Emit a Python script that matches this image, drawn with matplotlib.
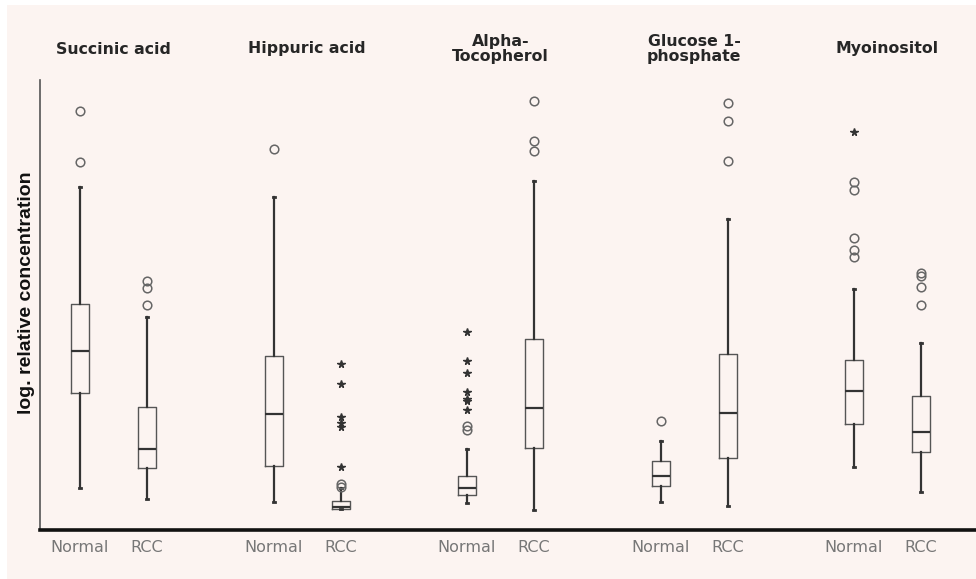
import matplotlib.pyplot as plt
from matplotlib.patches import Rectangle

# values are heights above the x axis (arbitrary log units)
metabolites = ['Succinic acid', 'Hippuric acid', 'Alpha-\nTocopherol', 'Glucose 1-\nphosphate', 'Myoinositol']
groups = ['Normal', 'RCC']

# whisker low, q1, median, q3, whisker high
normal_stats = [
    [42, 137, 179, 226, 343],
    [28, 64, 116, 174, 333],
    [27, 35, 42, 54, 81],
    [28, 44, 54, 69, 89],
    [63, 106, 139, 170, 241],
]
rcc_stats = [
    [31, 62, 81, 123, 213],
    [21, 21, 23, 29, 42],
    [20, 82, 122, 191, 349],
    [24, 72, 117, 176, 311],
    [38, 78, 98, 134, 187],
]

# outliers drawn as circles
normal_circles = [[419, 368], [381], [100, 104], [109], [273, 280, 292, 340, 348]]
rcc_circles = [[225, 242, 249], [43, 46], [379, 389, 429], [369, 409, 427], [225, 243, 254, 257]]
# extreme values drawn as stars
normal_stars = [[], [], [198, 169, 157, 138, 131, 129, 120], [], [398]]
rcc_stars = [[], [166, 146, 113, 107, 103, 63], [], [], []]

fig = plt.figure(figsize=(9.76, 5.79), dpi=100)
fig.patch.set_facecolor('white')
ax = fig.add_axes([0, 0, 1, 1])
ax.set_xlim(0, 976)
ax.set_ylim(-49, 530)
ax.axis('off')

ax.add_patch(Rectangle((7, -49), 969, 574, facecolor='#fcf4f1', edgecolor='none', zorder=0))

# axes lines
ax.plot([40, 40], [0, 450], color='#555555', lw=1.2, zorder=2)
ax.plot([40, 976], [0, 0], color='#111111', lw=2.6, zorder=2)

x0 = 80
step = 193.5
off = 67

stats = []
positions = []
for i in range(len(metabolites)):
    for g, src, circ in ((0, normal_stats, normal_circles), (1, rcc_stats, rcc_circles)):
        lo, q1, med, q3, hi = src[i]
        stats.append(dict(whislo=lo, q1=q1, med=med, q3=q3, whishi=hi, fliers=circ[i]))
        positions.append(x0 + i * step + g * off)

ax.bxp(stats, positions=positions, widths=18, showfliers=True, manage_ticks=False,
       boxprops=dict(color='#555555', lw=1.0),
       medianprops=dict(color='#333333', lw=1.6),
       whiskerprops=dict(color='#333333', lw=1.6),
       capprops=dict(color='#333333', lw=2.0),
       capwidths=2,
       flierprops=dict(marker='o', markerfacecolor='none', markeredgecolor='#666666',
                       markersize=6.2, markeredgewidth=1.1))

for i in range(len(metabolites)):
    for g, stars in ((0, normal_stars), (1, rcc_stars)):
        if stars[i]:
            xs = [x0 + i * step + g * off] * len(stars[i])
            ax.plot(xs, stars[i], linestyle='none', marker='*', color='#333333', markersize=5.5)

for i, name in enumerate(metabolites):
    cx = x0 + i * step + off / 2
    ax.text(cx, 481, name, ha='center', va='center', fontsize=11.3, fontweight='bold',
            color='#262626', family='DejaVu Sans', linespacing=1.05)
    for g, lab in enumerate(groups):
        ax.text(x0 + i * step + g * off, -18, lab, ha='center', va='center',
                fontsize=11.5, color='#777777', family='DejaVu Sans')

ax.text(27, 237, 'log. relative concentration', rotation=90, ha='center', va='center',
        fontsize=14, fontweight='bold', color='#111111', family='Liberation Sans')

fig.savefig('out.png', dpi=100)
